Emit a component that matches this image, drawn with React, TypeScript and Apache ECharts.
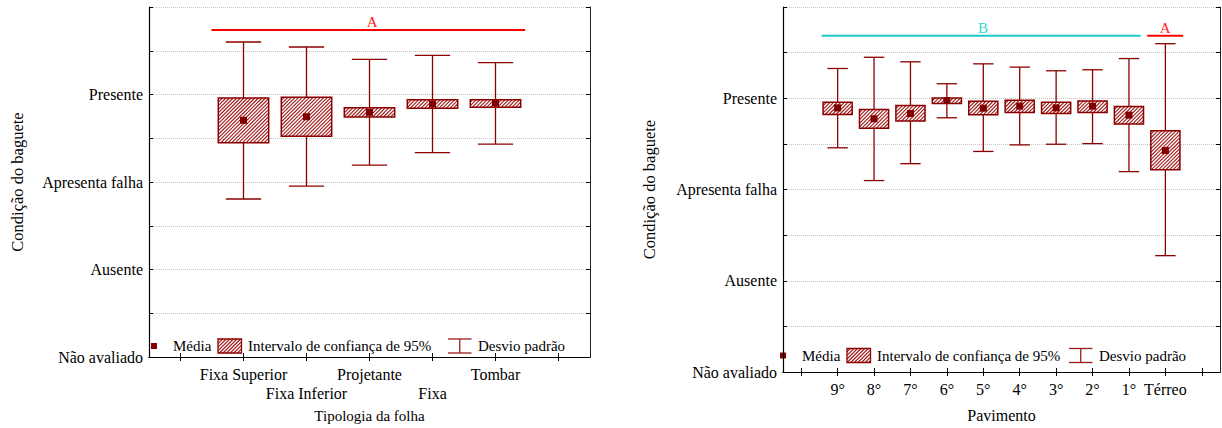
import React, { useEffect, useRef } from 'react';
import * as echarts from 'echarts';

// ---------- data ----------
const conditionLabels = ['Não avaliado', 'Ausente', 'Apresenta falha', 'Presente'];

const tipologiaCategories = ['Fixa Superior', 'Fixa Inferior', 'Projetante', 'Fixa', 'Tombar'];
const tipologiaMean = [2.705, 2.746, 2.796, 2.891, 2.903];
const tipologiaCiLow = [2.45, 2.522, 2.743, 2.842, 2.853];
const tipologiaCiHigh = [2.96, 2.968, 2.849, 2.941, 2.941];
const tipologiaSdLow = [1.806, 1.954, 2.194, 2.335, 2.434];
const tipologiaSdHigh = [3.6, 3.543, 3.402, 3.448, 3.364];
const tipologiaGroups = [{ letter: 'A', from: 'Fixa Superior', to: 'Tombar', level: 3.737 }];

const pavimentoCategories = ['9°', '8°', '7°', '6°', '5°', '4°', '3°', '2°', '1°', 'Térreo'];
const pavimentoMean = [2.895, 2.775, 2.833, 2.975, 2.891, 2.913, 2.895, 2.913, 2.815, 2.427];
const pavimentoCiLow = [2.822, 2.67, 2.75, 2.942, 2.819, 2.844, 2.833, 2.844, 2.717, 2.217];
const pavimentoCiHigh = [2.957, 2.877, 2.92, 3.004, 2.967, 2.978, 2.957, 2.971, 2.909, 2.645];
const pavimentoSdLow = [2.457, 2.098, 2.283, 2.786, 2.417, 2.489, 2.496, 2.503, 2.196, 1.275];
const pavimentoSdHigh = [3.326, 3.449, 3.399, 3.159, 3.377, 3.341, 3.301, 3.312, 3.435, 3.598];
const pavimentoGroups = [
  { letter: 'B', from: '9°', to: '1°', level: 3.685 },
  { letter: 'A', from: 'Térreo', to: 'Térreo', level: 3.685 },
];

// ---------- styles ----------
const FONT = 'Liberation Serif';
const DARK_RED = '#8B0000';
const GRID_COLOR = '#c4c4c4';
const leftGroupStyles = [{ color: '#ff0000', textColor: '#ff2020', padStart: -0.51, padEnd: 0.47, textShift: 4 }];
const rightGroupStyles = [
  { color: '#1cc8c8', textColor: '#40d4d4', padStart: -0.44, padEnd: 0.32, textShift: 2 },
  { color: '#ff0000', textColor: '#ff2020', padStart: -0.5, padEnd: 0.49, textShift: 0 },
];

function hatchLines(x0: number, y0: number, x1: number, y1: number, step: number) {
  const segs: number[][] = [];
  const cStart = Math.ceil((x0 + y0) / step) * step;
  for (let c = cStart; c <= x1 + y1; c += step) {
    const xa = Math.max(x0, c - y1);
    const xb = Math.min(x1, c - y0);
    if (xb - xa < 0.3) continue;
    segs.push([xa, c - xa, xb, c - xb]);
  }
  return segs;
}

function hatchElements(x0: number, y0: number, x1: number, y1: number) {
  return hatchLines(x0, y0, x1, y1, 3.6).map((s) => ({
    type: 'line',
    shape: { x1: s[0], y1: s[1], x2: s[2], y2: s[3] },
    style: { stroke: '#a01818', lineWidth: 1.1 },
    silent: true,
  }));
}

function boxRenderItem(params: any, api: any) {
  const xi = api.value(0);
  const sdLo = api.value(1);
  const ciLo = api.value(2);
  const mean = api.value(3);
  const ciHi = api.value(4);
  const sdHi = api.value(5);
  const band = api.size([1, 0])[0];
  const bw = band * 0.8;
  const cw = band * 0.56;
  const pm = api.coord([xi, mean]);
  const cx = pm[0];
  const yMean = pm[1];
  const ySdLo = api.coord([xi, sdLo])[1];
  const ySdHi = api.coord([xi, sdHi])[1];
  const yCiLo = api.coord([xi, ciLo])[1];
  const yCiHi = api.coord([xi, ciHi])[1];
  const lineStyle = { stroke: DARK_RED, lineWidth: 1.3 };
  const x0 = cx - bw / 2;
  const x1 = cx + bw / 2;
  const children: any[] = [
    { type: 'line', shape: { x1: cx, y1: ySdHi, x2: cx, y2: yCiHi }, style: lineStyle },
    { type: 'line', shape: { x1: cx, y1: yCiLo, x2: cx, y2: ySdLo }, style: lineStyle },
    { type: 'line', shape: { x1: cx - cw / 2, y1: ySdHi, x2: cx + cw / 2, y2: ySdHi }, style: lineStyle },
    { type: 'line', shape: { x1: cx - cw / 2, y1: ySdLo, x2: cx + cw / 2, y2: ySdLo }, style: lineStyle },
    { type: 'rect', shape: { x: x0, y: yCiHi, width: bw, height: yCiLo - yCiHi }, style: { fill: '#fff', stroke: 'none' } },
    ...hatchElements(x0, yCiHi, x1, yCiLo),
    { type: 'rect', shape: { x: x0, y: yCiHi, width: bw, height: yCiLo - yCiHi }, style: { fill: 'none', stroke: DARK_RED, lineWidth: 1.5 } },
    { type: 'rect', shape: { x: cx - 3.5, y: yMean - 3.5, width: 7, height: 7 }, style: { fill: '#800000' } },
  ];
  return { type: 'group', children };
}

function makeGroupRender(styles: any[]) {
  return function (params: any, api: any) {
    const st = styles[params.dataIndex];
    const from = api.value(0);
    const to = api.value(1);
    const lvl = api.value(2);
    const band = api.size([1, 0])[0];
    const p0 = api.coord([from, lvl]);
    const p1 = api.coord([to, lvl]);
    const xa = p0[0] + st.padStart * band;
    const xb = p1[0] + st.padEnd * band;
    return {
      type: 'group',
      children: [
        { type: 'line', shape: { x1: xa, y1: p0[1], x2: xb, y2: p0[1] }, style: { stroke: st.color, lineWidth: 2 } },
        {
          type: 'text',
          x: (xa + xb) / 2 + st.textShift,
          y: p0[1] - 8,
          style: {
            text: st.letter,
            fill: st.textColor,
            fontFamily: FONT,
            fontSize: 15,
            align: 'center',
            verticalAlign: 'middle',
          },
        },
      ],
    };
  };
}

function legendElements(cfg: any) {
  const { markerX, mediaX, boxX, intervalX, whiskerX, desvioX, cy } = cfg;
  const w = 23.5;
  const h = 14;
  const text = (x: number, t: string) => ({
    type: 'text',
    x,
    y: cy,
    style: { text: t, fill: '#000', fontFamily: FONT, fontSize: 15, align: 'left', verticalAlign: 'middle' },
    silent: true,
  });
  const ls = { stroke: '#9b1c1c', lineWidth: 1.3 };
  return [
    { type: 'rect', shape: { x: markerX - 3, y: cy - 3, width: 6, height: 6 }, style: { fill: '#800000' }, silent: true },
    text(mediaX, 'Média'),
    { type: 'rect', shape: { x: boxX, y: cy - h / 2, width: w, height: h }, style: { fill: '#fff' }, silent: true },
    ...hatchElements(boxX, cy - h / 2, boxX + w, cy + h / 2),
    { type: 'rect', shape: { x: boxX, y: cy - h / 2, width: w, height: h }, style: { fill: 'none', stroke: DARK_RED, lineWidth: 1.3 }, silent: true },
    text(intervalX, 'Intervalo de confiança de 95%'),
    { type: 'line', shape: { x1: whiskerX, y1: cy - h / 2, x2: whiskerX + w, y2: cy - h / 2 }, style: ls, silent: true },
    { type: 'line', shape: { x1: whiskerX, y1: cy + h / 2, x2: whiskerX + w, y2: cy + h / 2 }, style: ls, silent: true },
    { type: 'line', shape: { x1: whiskerX + w / 2, y1: cy - h / 2, x2: whiskerX + w / 2, y2: cy + h / 2 }, style: ls, silent: true },
    text(desvioX, 'Desvio padrão'),
  ];
}

function yAxes(gridIndex: number, nameGap: number) {
  return [
    {
      gridIndex,
      type: 'value',
      min: 0,
      max: 4,
      interval: 0.5,
      position: 'left',
      name: 'Condição do baguete',
      nameLocation: 'middle',
      nameGap,
      nameTextStyle: { fontFamily: FONT, fontSize: 16.5, color: '#000' },
      axisLine: { show: true, lineStyle: { color: '#000', width: 1.2 } },
      axisTick: { show: true, inside: true, length: 4, lineStyle: { color: '#000' } },
      axisLabel: {
        margin: 6,
        fontFamily: FONT,
        fontSize: 16,
        color: '#000',
        formatter: (v: number) => (Number.isInteger(v) && v < conditionLabels.length ? conditionLabels[v] : ''),
      },
      splitLine: { show: true, lineStyle: { color: GRID_COLOR, type: 'dotted', width: 1 } },
    },
    {
      gridIndex,
      type: 'value',
      min: 0,
      max: 4,
      interval: 0.5,
      position: 'right',
      axisLine: { show: true, lineStyle: { color: '#222', width: 1 } },
      axisTick: { show: true, inside: true, length: 4, lineStyle: { color: '#000' } },
      axisLabel: { show: false },
      splitLine: { show: false },
    },
  ];
}

function xAxes(gridIndex: number, cats: string[], name: string, nameGap: number, nameSize: number, twoRows: boolean) {
  const data = [' ', ...cats, '  '];
  return [
    {
      gridIndex,
      type: 'category',
      data,
      position: 'bottom',
      boundaryGap: true,
      name,
      nameLocation: 'middle',
      nameGap,
      nameTextStyle: { fontFamily: FONT, fontSize: nameSize, color: '#000' },
      axisLine: { show: true, lineStyle: { color: '#000', width: 1.2 } },
      axisTick: { show: true, inside: true, alignWithLabel: true, interval: 0, length: 4, lineStyle: { color: '#000' } },
      axisLabel: {
        interval: 0,
        margin: 8,
        lineHeight: 19,
        fontFamily: FONT,
        fontSize: 16,
        color: '#000',
        formatter: (v: string, i: number) => (twoRows && i % 2 === 0 ? '\n' + v.trim() : v.trim()),
      },
      splitLine: { show: false },
    },
    {
      gridIndex,
      type: 'category',
      data,
      position: 'top',
      boundaryGap: true,
      axisLine: { show: true, lineStyle: { color: '#000', width: 1 } },
      axisTick: { show: true, inside: true, alignWithLabel: true, interval: 0, length: 4, lineStyle: { color: '#000' } },
      axisLabel: { show: false },
      splitLine: { show: false },
    },
  ];
}

function boxData(cats: string[], lo: number[], ciLo: number[], mean: number[], ciHi: number[], hi: number[]) {
  return cats.map((_, i) => [i + 1, lo[i], ciLo[i], mean[i], ciHi[i], hi[i]]);
}

function groupData(cats: string[], groups: any[]) {
  return groups.map((g) => [cats.indexOf(g.from) + 1, cats.indexOf(g.to) + 1, g.level]);
}

export default function App() {
  const ref = useRef<HTMLDivElement>(null);
  useEffect(() => {
    document.body.style.margin = '0';
    if (!ref.current) return;
    const chart = echarts.init(ref.current, null, { renderer: 'svg' });
    const leftStyles = leftGroupStyles.map((s, i) => ({ ...s, letter: tipologiaGroups[i].letter }));
    const rightStyles = rightGroupStyles.map((s, i) => ({ ...s, letter: pavimentoGroups[i].letter }));
    const option: any = {
      animation: false,
      backgroundColor: '#fff',
      textStyle: { fontFamily: FONT },
      grid: [
        { left: 149, top: 7, width: 441, height: 350 },
        { left: 783, top: 7, width: 437, height: 368 },
      ],
      xAxis: [
        ...xAxes(0, tipologiaCategories, 'Tipologia da folha', 51, 15, true),
        ...xAxes(1, pavimentoCategories, 'Pavimento', 35, 16, false),
      ],
      yAxis: [...yAxes(0, 123), ...yAxes(1, 125)],
      series: [
        {
          type: 'custom',
          xAxisIndex: 0,
          yAxisIndex: 0,
          silent: true,
          renderItem: boxRenderItem,
          encode: { x: 0, y: 3 },
          data: boxData(tipologiaCategories, tipologiaSdLow, tipologiaCiLow, tipologiaMean, tipologiaCiHigh, tipologiaSdHigh),
        },
        {
          type: 'custom',
          xAxisIndex: 0,
          yAxisIndex: 0,
          silent: true,
          renderItem: makeGroupRender(leftStyles),
          encode: { x: [0, 1], y: 2 },
          data: groupData(tipologiaCategories, tipologiaGroups),
        },
        {
          type: 'custom',
          xAxisIndex: 2,
          yAxisIndex: 2,
          silent: true,
          renderItem: boxRenderItem,
          encode: { x: 0, y: 3 },
          data: boxData(pavimentoCategories, pavimentoSdLow, pavimentoCiLow, pavimentoMean, pavimentoCiHigh, pavimentoSdHigh),
        },
        {
          type: 'custom',
          xAxisIndex: 2,
          yAxisIndex: 2,
          silent: true,
          renderItem: makeGroupRender(rightStyles),
          encode: { x: [0, 1], y: 2 },
          data: groupData(pavimentoCategories, pavimentoGroups),
        },
      ],
      graphic: [
        ...legendElements({ markerX: 154, mediaX: 173, boxX: 218, intervalX: 248, whiskerX: 448, desvioX: 478, cy: 346 }),
        ...legendElements({ markerX: 783, mediaX: 802, boxX: 847, intervalX: 877, whiskerX: 1069, desvioX: 1099, cy: 355.5 }),
      ],
    };
    chart.setOption(option);
    return () => chart.dispose();
  }, []);
  return <div ref={ref} style={{ width: 1222, height: 428, position: 'absolute', left: 0, top: 0 }} />;
}
